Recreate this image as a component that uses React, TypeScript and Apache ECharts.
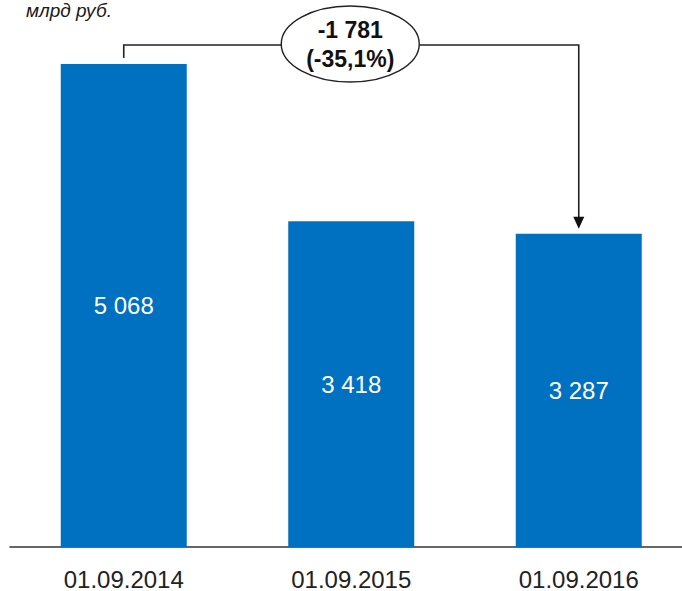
import React, { useEffect, useRef } from "react";
import * as echarts from "echarts";

const categories = ["01.09.2014", "01.09.2015", "01.09.2016"];
const values = [5068, 3418, 3287];
const unitLabel = "млрд руб.";
const changeLabel = "-1 781\n(-35,1%)";

const fmt = (v: number) => {
  const s = String(Math.round(v));
  return s.replace(/\B(?=(\d{3})+(?!\d))/g, " ");
};

export default function App() {
  const ref = useRef<HTMLDivElement>(null);
  useEffect(() => {
    if (!ref.current) return;
    const chart = echarts.init(ref.current, null, { renderer: "svg" });
    const font = "'Liberation Sans', Arial, sans-serif";
    chart.setOption({
      animation: false,
      grid: { left: 10, top: 22.7, width: 682.5, bottom: 43, containLabel: false },
      xAxis: {
        type: "category",
        data: categories,
        axisTick: { show: false },
        axisLine: { lineStyle: { color: "#333", width: 1.5 } },
        axisLabel: { color: "#222", fontSize: 24, fontFamily: font, margin: 20 },
      },
      yAxis: {
        type: "value",
        min: 0,
        max: 5500,
        show: false,
        splitLine: { show: false },
      },
      series: [
        {
          type: "bar",
          data: values,
          barWidth: 126,
          itemStyle: { color: "#0070C0" },
          label: {
            show: true,
            position: "inside",
            color: "#fff",
            fontSize: 24,
            fontFamily: font,
            formatter: (p: any) => fmt(p.value),
          },
        },
      ],
    });

    const p1 = chart.convertToPixel({ seriesIndex: 0 }, [0, values[0]]) as number[];
    const p3 = chart.convertToPixel({ seriesIndex: 0 }, [2, values[2]]) as number[];
    const p2 = chart.convertToPixel({ seriesIndex: 0 }, [1, values[1]]) as number[];
    const lineY = 45;
    const tipY = p3[1] - 5;
    const lineStyle = { stroke: "#222", lineWidth: 1.6, fill: null };
    chart.setOption({
      graphic: [
        {
          type: "text",
          x: 26,
          y: 1,
          style: {
            text: unitLabel,
            fontSize: 19,
            fontStyle: "italic",
            fontFamily: font,
            verticalAlign: "top",
            fill: "#1a1a1a",
          },
        },
        {
          type: "polyline",
          shape: {
            points: [
              [p1[0], p1[1] - 6],
              [p1[0], lineY],
              [p3[0], lineY],
              [p3[0], tipY - 10],
            ],
          },
          style: lineStyle,
        },
        {
          type: "polygon",
          shape: {
            points: [
              [p3[0] - 5.5, tipY - 12],
              [p3[0] + 5.5, tipY - 12],
              [p3[0], tipY],
            ],
          },
          style: { fill: "#111" },
        },
        {
          type: "ellipse",
          shape: { cx: p2[0] - 1, cy: lineY - 1, rx: 69, ry: 38 },
          style: { fill: "#fff", stroke: "#222", lineWidth: 1.4 },
          z: 10,
        },
        {
          type: "text",
          x: p2[0] - 1,
          y: lineY - 1,
          z: 11,
          style: {
            text: changeLabel,
            align: "center",
            verticalAlign: "middle",
            fontSize: 23,
            fontWeight: "bold",
            lineHeight: 29,
            fontFamily: font,
            fill: "#111",
          },
        },
      ],
    });
    return () => chart.dispose();
  }, []);
  return (
    <div
      style={{ position: "fixed", left: 0, top: 0, width: 682, height: 591, overflow: "hidden", background: "#fff" }}
    >
      <div ref={ref} style={{ width: 700, height: 591 }} />
    </div>
  );
}
